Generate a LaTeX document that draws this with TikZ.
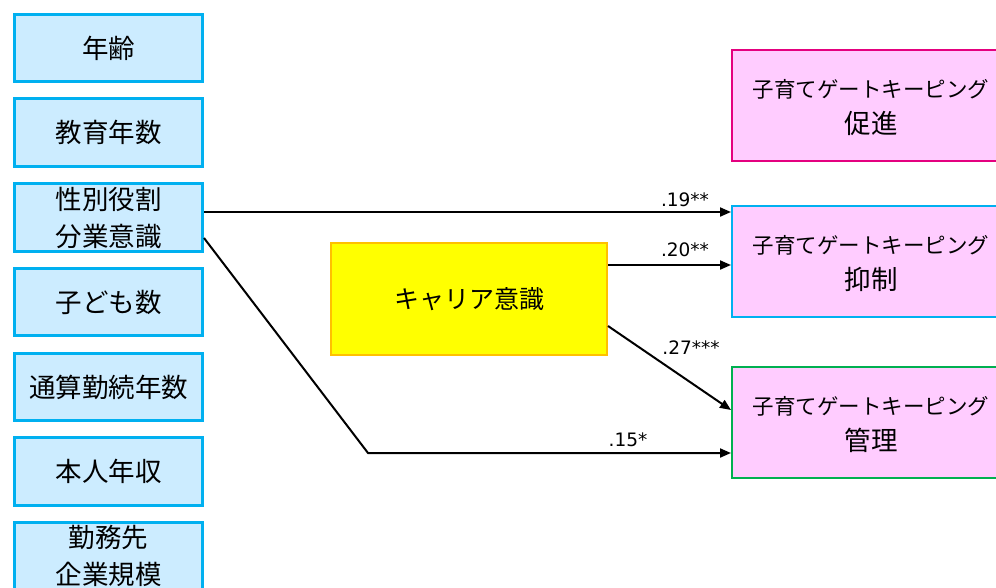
\documentclass[tikz,border=0pt]{standalone}
\usepackage{fontspec}
\setmainfont{DejaVu Sans}
\newfontfamily\jp{Noto Sans CJK JP}
\usetikzlibrary{arrows.meta}
\definecolor{lbfill}{HTML}{CCECFF}
\definecolor{lbdraw}{HTML}{00B0F0}
\definecolor{pkfill}{HTML}{FFCCFF}
\definecolor{mgdraw}{HTML}{E4007F}
\definecolor{grdraw}{HTML}{00B050}
\definecolor{yedraw}{HTML}{FFC000}
\definecolor{yefill}{HTML}{FFFF00}
\tikzset{
  lbox/.style={draw=lbdraw, line width=3pt, fill=lbfill, minimum width=188pt, minimum height=67.5pt,
    inner sep=0pt, align=center, font=\jp\fontsize{26.5}{37}\selectfont},
  rbox/.style={line width=2pt, fill=pkfill, minimum width=278pt, minimum height=111pt,
    inner sep=0pt, align=center, font=\jp\fontsize{21.5}{33}\selectfont},
  ybox/.style={draw=yedraw, line width=2pt, fill=yefill, minimum width=276pt, minimum height=112pt,
    inner sep=0pt, align=center, font=\jp\fontsize{25}{30}\selectfont},
  arr/.style={line width=2pt, -{Triangle[length=11pt,width=9pt]}},
  coef/.style={font=\fontsize{18.5}{20}\selectfont, inner sep=0pt}
}
\newcommand{\bigline}[1]{{\fontsize{26.5}{33}\selectfont #1}}
\begin{document}
\begin{tikzpicture}[x=1pt,y=-1pt]
\useasboundingbox (0,0) rectangle (996,587);
\fill[white] (0,0) rectangle (996,587);
\clip (0,0) rectangle (996,587);

\node[lbox] (age) at (108.5,48) {年齢};
\node[lbox] (edu) at (108.5,132.5) {教育年数};
\node[lbox] (gr) at (108.5,217.5) {性別役割\\分業意識};
\node[lbox] (kids) at (108.5,302) {子ども数};
\node[lbox] (ten) at (108.5,387) {通算勤続年数};
\node[lbox] (inc) at (108.5,471.5) {本人年収};
\node[lbox] (firm) at (108.5,556) {勤務先\\企業規模};

\node[ybox] (car) at (469,299) {キャリア意識};

\node[rbox, draw=mgdraw, text depth=0pt] (pr) at (871,105.5) {};
\node[rbox, draw=lbdraw] (ys) at (871,261.5) {};
\node[rbox, draw=grdraw] (gm) at (871,422.5) {};
\node[align=center, font=\jp\fontsize{21.5}{33}\selectfont, inner sep=0pt] (prt) at ([yshift=-2pt]pr.center) {子育てゲートキーピング\\[3pt]\bigline{促進}};
\node[align=center, font=\jp\fontsize{21.5}{33}\selectfont, inner sep=0pt] (yst) at ([yshift=-2pt]ys.center) {子育てゲートキーピング\\[3pt]\bigline{抑制}};
\node[align=center, font=\jp\fontsize{21.5}{33}\selectfont, inner sep=0pt] (gmt) at ([yshift=-2pt]gm.center) {子育てゲートキーピング\\[3pt]\bigline{管理}};

\coordinate (bend) at (368,453);

\draw[arr] ([yshift=5.5pt]gr.east) -- ([yshift=5.5pt]gr.east -| ys.west);
\draw[arr] ([yshift=34pt]car.east) -- ([yshift=34pt]car.east -| ys.west);
\draw[arr] ([yshift=-27pt]car.east) -- ([yshift=12.5pt]gm.west);
\draw[arr] ([yshift=-20.5pt]gr.east) -- (bend) -- (bend -| gm.west);

\node[coef] (l1) at (685,200) {.19**};
\node[coef] (l2) at (685,250) {.20**};
\node[coef] (l3) at (691,348) {.27***};
\node[coef] (l4) at (628,440) {.15*};
\end{tikzpicture}
\end{document}
